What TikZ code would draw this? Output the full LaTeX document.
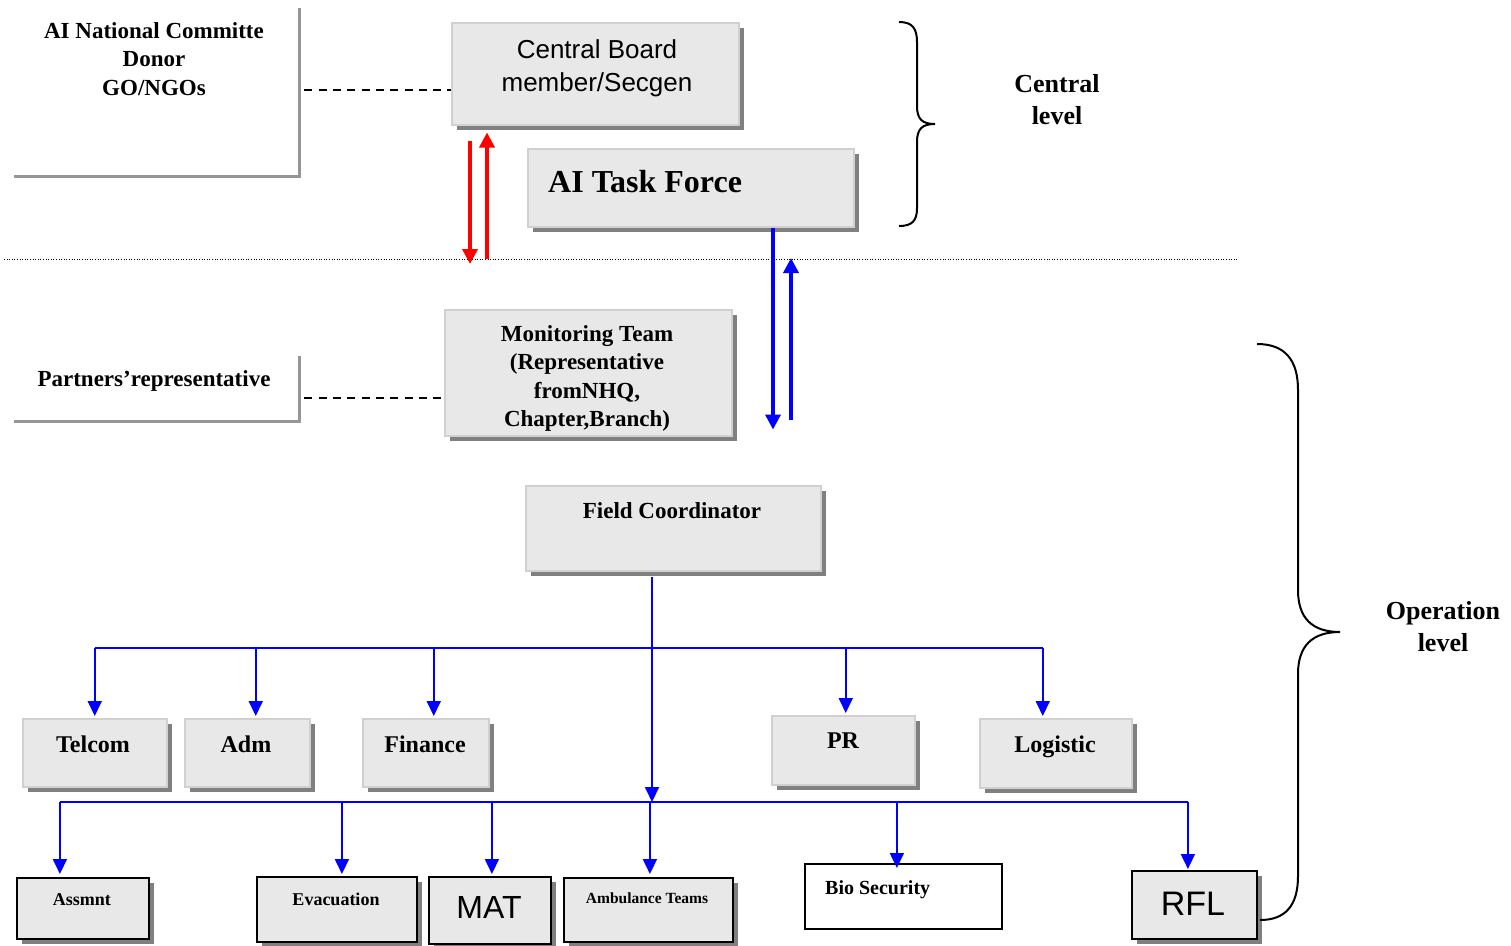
\documentclass[tikz,border=0pt]{standalone}
\usepackage{fontspec}
\setmainfont{Liberation Serif}
\newfontfamily\arialf{Liberation Sans}
\usetikzlibrary{arrows.meta,shadows}

\definecolor{boxgray}{RGB}{232,232,232}
\definecolor{shadegray}{RGB}{128,128,128}
\definecolor{rimgray}{RGB}{208,208,208}
\definecolor{linegray}{RGB}{150,150,150}

\tikzset{
  gbox/.style={draw=rimgray, line width=1.5pt, fill=boxgray, inner sep=0pt, anchor=north west,
    general shadow={fill=shadegray, shadow xshift=5pt, shadow yshift=-5pt}},
  kbox/.style={gbox, draw=black, line width=1.8pt},
  wbox/.style={inner sep=0pt, anchor=north west},
  rim/.style={draw=linegray, line width=2.4pt},
  txt/.style={font=\bfseries\fontsize{23}{28.5}\selectfont, align=center, anchor=north, inner sep=0pt},
  midtxt/.style={txt, font=\bfseries\fontsize{24}{28}\selectfont},
  smalltxt/.style={txt, font=\bfseries\fontsize{18}{22}\selectfont},
  leveltxt/.style={txt, font=\bfseries\fontsize{26}{32}\selectfont},
  stxt/.style={txt, font=\arialf\fontsize{26}{33}\selectfont},
  dashln/.style={draw=black, line width=1.6pt, dash pattern=on 8pt off 6.3pt},
  redarr/.style={draw=red, line width=3.5pt, -{Triangle[length=15pt,width=15pt]}},
  bluearr/.style={draw=blue, line width=3.5pt, -{Triangle[length=15pt,width=15pt]}},
  bline/.style={draw=blue, line width=1.8pt},
  barrow/.style={bline, -{Triangle[length=15pt,width=14pt]}},
  brace/.style={draw=black, line width=2pt}
}

\begin{document}
\begin{tikzpicture}[x=1pt,y=-1pt]
    \useasboundingbox (0,0) rectangle (1511,945);

    %%partner boxes on the left
    \node[wbox, minimum width=285, minimum height=168] (natl) at (14,8) {};
        \draw[rim] (natl.north east) -- (natl.south east) -- (natl.south west);
        \node[txt] (natl-t) at (154,22) {AI National Committe\\Donor\\GO/NGOs};
    \node[wbox, minimum width=285, minimum height=65] (prt) at (14,356) {};
        \draw[rim] (prt.north east) -- (prt.south east) -- (prt.south west);
        \node[txt] (prt-t) at (154,370) {Partners’representative};

    %%central level
    \node[gbox, minimum width=287, minimum height=102] (cb) at (451,22) {};
        \node[stxt] (cb-t) at (597,39) {Central Board\\member/Secgen};
    \node[gbox, minimum width=326, minimum height=78] (tf) at (527,148) {};
        \node[txt, anchor=north west, font=\bfseries\fontsize{32}{36}\selectfont] (tf-t) at (548,170) {AI Task Force};

    %%level divider
    \coordinate (lvl) at (4,259);
    \coordinate (lvr) at (1238,259);
    \draw[line width=0.9pt, dash pattern=on 1pt off 1.6pt] (lvl) -- (lvr);

    %%operation level
    \node[gbox, minimum width=287, minimum height=126] (mon) at (444,309) {};
        \node[txt] (mon-t) at (587,325) {Monitoring Team\\(Representative\\fromNHQ,\\Chapter,Branch)};
    \node[gbox, minimum width=295, minimum height=85] (fc) at (525,485) {};
        \node[txt] (fc-t) at (672,502) {Field Coordinator};

    %%support units
    \node[gbox, minimum width=144, minimum height=68] (tel) at (22,718) {};
        \node[midtxt] (tel-t) at (93,736) {Telcom};
    \node[gbox, minimum width=125, minimum height=68] (adm) at (184,718) {};
        \node[midtxt] (adm-t) at (246,736) {Adm};
    \node[gbox, minimum width=126, minimum height=68] (fin) at (362,718) {};
        \node[midtxt] (fin-t) at (425,736) {Finance};
    \node[gbox, minimum width=143, minimum height=69] (pr) at (771,715) {};
        \node[midtxt] (pr-t) at (843,733) {PR};
    \node[gbox, minimum width=152, minimum height=69] (log) at (979,718) {};
        \node[midtxt] (log-t) at (1055,736) {Logistic};

    %%field teams
    \node[kbox, minimum width=132, minimum height=61] (ass) at (16,877) {};
        \node[smalltxt] (ass-t) at (82,893) {Assmnt};
    \node[kbox, minimum width=160, minimum height=65] (eva) at (256,876) {};
        \node[smalltxt] (eva-t) at (336,893) {Evacuation};
    \node[kbox, minimum width=122, minimum height=67] (mat) at (428,876) {};
        \node[stxt, font=\arialf\fontsize{32}{36}\selectfont] (mat-t) at (489,896) {MAT};
    \node[kbox, minimum width=169, minimum height=64] (amb) at (563,877) {};
        \node[smalltxt, font=\bfseries\fontsize{15.5}{19}\selectfont] (amb-t) at (647,893) {Ambulance Teams};
    \node[draw=black, line width=1.8pt, fill=white, wbox, minimum width=197, minimum height=65] (bio) at (804,863) {};
        \node[txt, anchor=north west, font=\bfseries\fontsize{20}{24}\selectfont] (bio-t) at (825,880) {Bio Security};
    \node[kbox, minimum width=125, minimum height=68] (rfl) at (1131,870) {};
        \node[stxt, font=\arialf\fontsize{34}{38}\selectfont] (rfl-t) at (1193,892) {RFL};

    %%dashed links to the partners
    \draw[dashln] ([xshift=5pt,yshift=2pt]natl.east) -- ([yshift=2pt]natl.east -| cb.west);
    \draw[dashln] ([xshift=5pt,yshift=-9.5pt]prt.east) -- ([yshift=-9.5pt]prt.east -| mon.west);

    %%reporting arrows across the divider
    \draw[redarr] ([xshift=19pt,yshift=-15pt]cb.south west) -- ([xshift=19pt,yshift=-5pt]cb.south west |- lvl);
    \draw[redarr] ([xshift=36pt]cb.south west |- lvl) -- ([xshift=36pt,yshift=-7pt]cb.south west);
    \draw[bluearr] ([xshift=246pt]tf.south west) -- ([xshift=246pt,yshift=7pt]tf.south west |- mon.south);
    \draw[bluearr] ([xshift=264pt,yshift=17pt]tf.south west |- mon.south) -- ([xshift=264pt,yshift=1pt]tf.south west |- lvl);

    %%draw the tree under the field coordinator
    \coordinate (bus1) at (652,648);
    \coordinate (bus2) at (652,802);
    \draw[barrow] ([yshift=-5pt]bus2 |- fc.south) -- (bus2);
    \draw[bline] (tel.north |- bus1) -- ([xshift=-13pt]log.north |- bus1);
    \foreach \nm/\dx in {tel/0,adm/8.5,fin/8,pr/2.5,log/-13}
        \draw[barrow] ([xshift=\dx pt]\nm.north |- bus1) -- ([xshift=\dx pt,yshift=2pt]\nm.north);
    \draw[bline] ([xshift=-23pt]ass.north |- bus2) -- ([xshift=-6.5pt]rfl.north |- bus2);
    \foreach \nm/\dx/\dy in {ass/-23/3,eva/5/2,mat/2/2,amb/1.5/3,bio/-6.5/-5,rfl/-6.5/1}
        \draw[barrow] ([xshift=\dx pt]\nm.north |- bus2) -- ([xshift=\dx pt,yshift=\dy pt]\nm.north);

    %%draw the level braces
    \draw[brace] (899,22) .. controls (912,22) and (917,28) .. (917,42) -- (917,106)
        .. controls (917,119) and (922,124) .. (935,124)
        .. controls (922,124) and (917,129) .. (917,142) -- (917,208)
        .. controls (917,221) and (912,226) .. (899,226);
    \node[leveltxt] (cen-t) at (1057,74) {Central\\level};
    \draw[brace] (1257,344) .. controls (1285,344) and (1298,360) .. (1298,390) -- (1298,590)
        .. controls (1298,618) and (1312,632) .. (1340,632)
        .. controls (1312,632) and (1298,646) .. (1298,674) -- (1298,876)
        .. controls (1298,906) and (1285,920) .. (1260,920);
    \node[leveltxt] (op-t) at (1443,601) {Operation\\level};
\end{tikzpicture}
\end{document}
